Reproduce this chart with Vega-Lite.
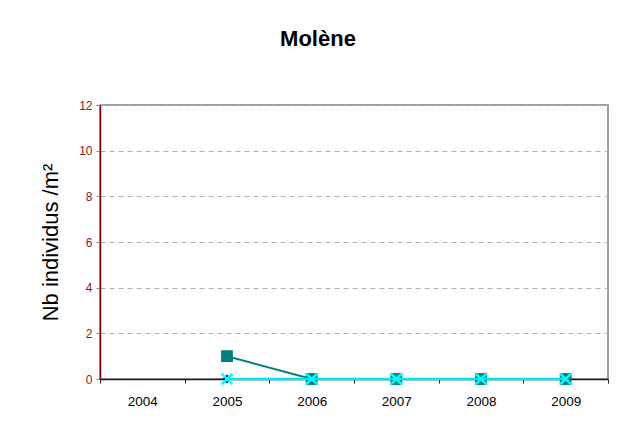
{
  "$schema": "https://vega.github.io/schema/vega-lite/v6.json",
  "autosize": "none",
  "width": 508,
  "height": 274,
  "padding": {"left": 100, "top": 105, "right": 14, "bottom": 51},
  "background": "white",
  "title": {"text": "Molène", "font": "Liberation Sans", "fontSize": 22, "fontWeight": "bold", "color": "black", "anchor": "middle", "dx": -36, "offset": 48},
  "config": {
    "view": {"stroke": "#808080", "strokeWidth": 1.5},
    "font": "Liberation Sans"
  },
  "datasets": {
    "rows": [
      {"year": "2005", "series": "A", "value": 1},
      {"year": "2006", "series": "A", "value": 0},
      {"year": "2007", "series": "A", "value": 0},
      {"year": "2008", "series": "A", "value": 0},
      {"year": "2009", "series": "A", "value": 0},
      {"year": "2005", "series": "B", "value": 0},
      {"year": "2006", "series": "B", "value": 0},
      {"year": "2007", "series": "B", "value": 0},
      {"year": "2008", "series": "B", "value": 0},
      {"year": "2009", "series": "B", "value": 0},
      {"year": "2005", "series": "C", "value": 0},
      {"year": "2006", "series": "C", "value": 0},
      {"year": "2007", "series": "C", "value": 0},
      {"year": "2008", "series": "C", "value": 0},
      {"year": "2009", "series": "C", "value": 0}
    ]
  },
  "data": {"name": "rows"},
  "encoding": {
    "x": {
      "field": "year", "type": "ordinal",
      "scale": {"type": "band", "domain": ["2004", "2005", "2006", "2007", "2008", "2009"], "paddingInner": 0, "paddingOuter": 0},
      "axis": {"title": null, "labelAngle": 0, "labelFontSize": 13.5, "labelColor": "black", "domainColor": "#202020", "domainWidth": 1.5, "tickColor": "#202020", "tickSize": 4, "tickBand": "extent", "labelPadding": 11, "grid": false}
    },
    "y": {
      "field": "value", "type": "quantitative",
      "scale": {"domain": [0, 12]},
      "axis": {"title": "Nb individus /m²", "titleFontSize": 22, "titleFontWeight": "normal", "titleColor": "black", "titlePadding": 16, "values": [0, 2, 4, 6, 8, 10, 12], "labelFontSize": 12, "labelColor": "#8B1A1A", "domainColor": "#800000", "domainWidth": 1.5, "tickColor": "#808080", "tickSize": 4, "labelPadding": 4, "grid": true, "gridColor": "#b0b0b0", "gridDash": [5, 4], "gridWidth": 1}
    }
  },
  "layer": [
    {
      "transform": [{"filter": "datum.series === 'B'"}],
      "mark": {"type": "line", "color": "#000080", "strokeWidth": 2}
    },
    {
      "transform": [{"filter": "datum.series === 'B'"}],
      "mark": {"type": "point", "shape": "diamond", "filled": true, "color": "#000080", "size": 80, "opacity": 1}
    },
    {
      "transform": [{"filter": "datum.series === 'A'"}],
      "mark": {"type": "line", "color": "#008080", "strokeWidth": 2}
    },
    {
      "transform": [{"filter": "datum.series === 'A'"}],
      "mark": {"type": "point", "shape": "square", "filled": true, "color": "#008080", "size": 140, "opacity": 1}
    },
    {
      "transform": [{"filter": "datum.series === 'C'"}],
      "mark": {"type": "line", "color": "#00E5FF", "strokeWidth": 2.5}
    },
    {
      "transform": [{"filter": "datum.series === 'C'"}],
      "mark": {"type": "point", "shape": "M-1,-1L1,1M1,-1L-1,1", "filled": false, "color": "#00FFFF", "strokeWidth": 2.5, "size": 120, "opacity": 1}
    }
  ]
}
